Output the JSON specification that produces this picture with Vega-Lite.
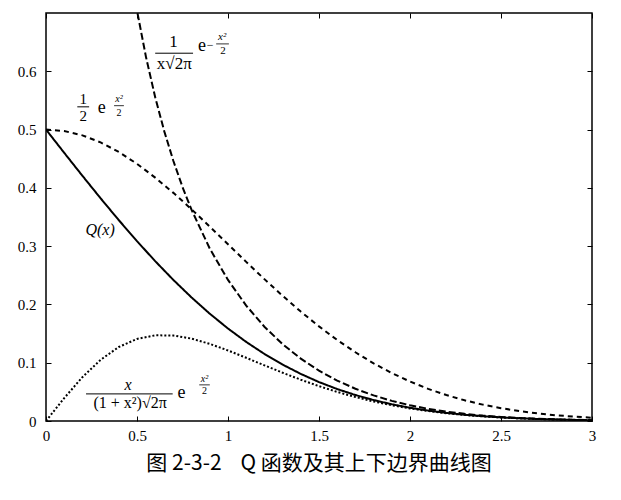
{
  "$schema": "https://vega.github.io/schema/vega-lite/v6.json",
  "width": 546,
  "height": 408,
  "autosize": "none",
  "padding": {"left": 46, "top": 13, "right": 29, "bottom": 79},
  "background": "white",
  "config": {
    "view": {"stroke": "black", "strokeWidth": 1.5},
    "text": {"font": "Liberation Serif, DejaVu Serif, serif", "fontSize": 16, "baseline": "middle", "align": "center", "color": "black"},
    "axis": {"domain": false, "grid": false, "tickColor": "black", "tickWidth": 1, "tickSize": 5, "offset": -5, "labelFont": "Liberation Serif, DejaVu Serif, serif", "labelFontSize": 15, "labelColor": "black"}
  },
  "title": {"text": "图 2-3-2\u00a0\u00a0\u00a0\u00a0Q 函数及其上下边界曲线图", "orient": "bottom", "font": "Noto Sans CJK SC", "fontSize": 21, "fontWeight": "normal", "offset": 10, "anchor": "middle", "dx": 0, "color": "black"},
  "datasets": {
    "curves": [
      {"x": 0, "y": 0.5, "curve": "Q"}, {"x": 0.1, "y": 0.46017, "curve": "Q"}, {"x": 0.2, "y": 0.42074, "curve": "Q"}, {"x": 0.3, "y": 0.38209, "curve": "Q"}, {"x": 0.4, "y": 0.34458, "curve": "Q"}, {"x": 0.5, "y": 0.30854, "curve": "Q"}, {"x": 0.6, "y": 0.27425, "curve": "Q"}, {"x": 0.7, "y": 0.24196, "curve": "Q"}, {"x": 0.8, "y": 0.21186, "curve": "Q"}, {"x": 0.9, "y": 0.18406, "curve": "Q"}, {"x": 1.0, "y": 0.15866, "curve": "Q"}, {"x": 1.1, "y": 0.13567, "curve": "Q"}, {"x": 1.2, "y": 0.11507, "curve": "Q"}, {"x": 1.3, "y": 0.0968, "curve": "Q"}, {"x": 1.4, "y": 0.08076, "curve": "Q"}, {"x": 1.5, "y": 0.06681, "curve": "Q"}, {"x": 1.6, "y": 0.0548, "curve": "Q"}, {"x": 1.7, "y": 0.04457, "curve": "Q"}, {"x": 1.8, "y": 0.03593, "curve": "Q"}, {"x": 1.9, "y": 0.02872, "curve": "Q"}, {"x": 2.0, "y": 0.02275, "curve": "Q"}, {"x": 2.1, "y": 0.01786, "curve": "Q"}, {"x": 2.2, "y": 0.0139, "curve": "Q"}, {"x": 2.3, "y": 0.01072, "curve": "Q"}, {"x": 2.4, "y": 0.0082, "curve": "Q"}, {"x": 2.5, "y": 0.00621, "curve": "Q"}, {"x": 2.6, "y": 0.00466, "curve": "Q"}, {"x": 2.7, "y": 0.00347, "curve": "Q"}, {"x": 2.8, "y": 0.00256, "curve": "Q"}, {"x": 2.9, "y": 0.00187, "curve": "Q"}, {"x": 3.0, "y": 0.00135, "curve": "Q"},
      {"x": 0, "y": 0.5, "curve": "half"}, {"x": 0.1, "y": 0.4975, "curve": "half"}, {"x": 0.2, "y": 0.4901, "curve": "half"}, {"x": 0.3, "y": 0.478, "curve": "half"}, {"x": 0.4, "y": 0.4616, "curve": "half"}, {"x": 0.5, "y": 0.4412, "curve": "half"}, {"x": 0.6, "y": 0.4176, "curve": "half"}, {"x": 0.7, "y": 0.3914, "curve": "half"}, {"x": 0.8, "y": 0.3631, "curve": "half"}, {"x": 0.9, "y": 0.3335, "curve": "half"}, {"x": 1.0, "y": 0.3033, "curve": "half"}, {"x": 1.1, "y": 0.273, "curve": "half"}, {"x": 1.2, "y": 0.2434, "curve": "half"}, {"x": 1.3, "y": 0.2148, "curve": "half"}, {"x": 1.4, "y": 0.1877, "curve": "half"}, {"x": 1.5, "y": 0.1623, "curve": "half"}, {"x": 1.6, "y": 0.139, "curve": "half"}, {"x": 1.7, "y": 0.1179, "curve": "half"}, {"x": 1.8, "y": 0.0989, "curve": "half"}, {"x": 1.9, "y": 0.0822, "curve": "half"}, {"x": 2.0, "y": 0.0677, "curve": "half"}, {"x": 2.1, "y": 0.0551, "curve": "half"}, {"x": 2.2, "y": 0.0445, "curve": "half"}, {"x": 2.3, "y": 0.0355, "curve": "half"}, {"x": 2.4, "y": 0.0281, "curve": "half"}, {"x": 2.5, "y": 0.022, "curve": "half"}, {"x": 2.6, "y": 0.017, "curve": "half"}, {"x": 2.7, "y": 0.0131, "curve": "half"}, {"x": 2.8, "y": 0.0099, "curve": "half"}, {"x": 2.9, "y": 0.0075, "curve": "half"}, {"x": 3.0, "y": 0.0056, "curve": "half"},
      {"x": 0.45, "y": 0.8012, "curve": "upper"}, {"x": 0.5, "y": 0.7041, "curve": "upper"}, {"x": 0.55, "y": 0.6235, "curve": "upper"}, {"x": 0.6, "y": 0.5554, "curve": "upper"}, {"x": 0.65, "y": 0.4969, "curve": "upper"}, {"x": 0.7, "y": 0.4461, "curve": "upper"}, {"x": 0.75, "y": 0.4015, "curve": "upper"}, {"x": 0.8, "y": 0.3621, "curve": "upper"}, {"x": 0.9, "y": 0.2957, "curve": "upper"}, {"x": 1.0, "y": 0.242, "curve": "upper"}, {"x": 1.1, "y": 0.198, "curve": "upper"}, {"x": 1.2, "y": 0.1618, "curve": "upper"}, {"x": 1.3, "y": 0.1318, "curve": "upper"}, {"x": 1.4, "y": 0.107, "curve": "upper"}, {"x": 1.5, "y": 0.0863, "curve": "upper"}, {"x": 1.6, "y": 0.0693, "curve": "upper"}, {"x": 1.7, "y": 0.0553, "curve": "upper"}, {"x": 1.8, "y": 0.0439, "curve": "upper"}, {"x": 1.9, "y": 0.0345, "curve": "upper"}, {"x": 2.0, "y": 0.027, "curve": "upper"}, {"x": 2.1, "y": 0.0209, "curve": "upper"}, {"x": 2.2, "y": 0.0161, "curve": "upper"}, {"x": 2.3, "y": 0.0123, "curve": "upper"}, {"x": 2.4, "y": 0.0093, "curve": "upper"}, {"x": 2.5, "y": 0.007, "curve": "upper"}, {"x": 2.6, "y": 0.0052, "curve": "upper"}, {"x": 2.7, "y": 0.0039, "curve": "upper"}, {"x": 2.8, "y": 0.0028, "curve": "upper"}, {"x": 2.9, "y": 0.0021, "curve": "upper"}, {"x": 3.0, "y": 0.0015, "curve": "upper"},
      {"x": 0, "y": 0, "curve": "lower"}, {"x": 0.1, "y": 0.0393, "curve": "lower"}, {"x": 0.2, "y": 0.0752, "curve": "lower"}, {"x": 0.3, "y": 0.10497, "curve": "lower"}, {"x": 0.4, "y": 0.12699, "curve": "lower"}, {"x": 0.5, "y": 0.14083, "curve": "lower"}, {"x": 0.6, "y": 0.14701, "curve": "lower"}, {"x": 0.7, "y": 0.14669, "curve": "lower"}, {"x": 0.8, "y": 0.14131, "curve": "lower"}, {"x": 0.9, "y": 0.13231, "curve": "lower"}, {"x": 1.0, "y": 0.12099, "curve": "lower"}, {"x": 1.1, "y": 0.10843, "curve": "lower"}, {"x": 1.2, "y": 0.0955, "curve": "lower"}, {"x": 1.3, "y": 0.08282, "curve": "lower"}, {"x": 1.4, "y": 0.07082, "curve": "lower"}, {"x": 1.5, "y": 0.05978, "curve": "lower"}, {"x": 1.6, "y": 0.04985, "curve": "lower"}, {"x": 1.7, "y": 0.0411, "curve": "lower"}, {"x": 1.8, "y": 0.03352, "curve": "lower"}, {"x": 1.9, "y": 0.02705, "curve": "lower"}, {"x": 2.0, "y": 0.0216, "curve": "lower"}, {"x": 2.1, "y": 0.01707, "curve": "lower"}, {"x": 2.2, "y": 0.01336, "curve": "lower"}, {"x": 2.3, "y": 0.01036, "curve": "lower"}, {"x": 2.4, "y": 0.00795, "curve": "lower"}, {"x": 2.5, "y": 0.00604, "curve": "lower"}, {"x": 2.6, "y": 0.00455, "curve": "lower"}, {"x": 2.7, "y": 0.00339, "curve": "lower"}, {"x": 2.8, "y": 0.00251, "curve": "lower"}, {"x": 2.9, "y": 0.00183, "curve": "lower"}, {"x": 3.0, "y": 0.00133, "curve": "lower"}
    ]
  },
  "resolve": {"axis": {"x": "independent", "y": "independent"}},
  "layer": [
    {
      "data": {"name": "curves"},
      "mark": {"type": "line", "clip": true, "strokeWidth": 2, "color": "black"},
      "encoding": {
        "x": {"field": "x", "type": "quantitative", "scale": {"domain": [0, 3], "nice": false, "zero": false},
          "axis": {"orient": "bottom", "title": null, "values": [0, 0.5, 1, 1.5, 2, 2.5, 3], "labelExpr": "'' + datum.value", "labelPadding": 7, "labelFlush": false}},
        "y": {"field": "y", "type": "quantitative", "scale": {"domain": [0, 0.7], "nice": false, "zero": false},
          "axis": {"orient": "left", "title": null, "values": [0, 0.1, 0.2, 0.3, 0.4, 0.5, 0.6], "labelExpr": "'' + datum.value", "labelPadding": 10}},
        "detail": {"field": "curve"},
        "strokeDash": {"field": "curve", "type": "nominal", "legend": null,
          "scale": {"domain": ["Q", "half", "upper", "lower"], "range": [[1, 0], [5, 4], [7, 3], [2, 2]]}}
      }
    },
    {
      "data": {"values": [{}]},
      "mark": {"type": "point", "opacity": 0},
      "encoding": {
        "x": {"datum": 1, "type": "quantitative", "axis": {"orient": "top", "title": null, "labels": false, "values": [0, 0.5, 1, 1.5, 2, 2.5, 3]}},
        "y": {"datum": 0.3, "type": "quantitative", "axis": {"orient": "right", "title": null, "labels": false, "values": [0, 0.1, 0.2, 0.3, 0.4, 0.5, 0.6]}}
      }
    },
    {"data": {"values": [{}]}, "mark": {"type": "text", "text": "1", "fontSize": 17}, "encoding": {"x": {"datum": 0.7, "axis": null}, "y": {"datum": 0.651, "axis": null}}},
    {"data": {"values": [{}]}, "mark": {"type": "rule", "strokeWidth": 1, "color": "black"}, "encoding": {"x": {"datum": 0.6, "axis": null}, "x2": {"datum": 0.808}, "y": {"datum": 0.631, "axis": null}}},
    {"data": {"values": [{}]}, "mark": {"type": "text", "text": "x√2π", "fontSize": 17}, "encoding": {"x": {"datum": 0.705, "axis": null}, "y": {"datum": 0.612, "axis": null}}},
    {"data": {"values": [{}]}, "mark": {"type": "text", "text": "e", "fontSize": 18}, "encoding": {"x": {"datum": 0.857, "axis": null}, "y": {"datum": 0.643, "axis": null}}},
    {"data": {"values": [{}]}, "mark": {"type": "text", "text": "−", "fontSize": 12}, "encoding": {"x": {"datum": 0.902, "axis": null}, "y": {"datum": 0.645, "axis": null}}},
    {"data": {"values": [{}]}, "mark": {"type": "text", "text": "x²", "fontSize": 11, "fontStyle": "italic"}, "encoding": {"x": {"datum": 0.968, "axis": null}, "y": {"datum": 0.658, "axis": null}}},
    {"data": {"values": [{}]}, "mark": {"type": "rule", "strokeWidth": 0.8, "color": "black"}, "encoding": {"x": {"datum": 0.935, "axis": null}, "x2": {"datum": 1.005}, "y": {"datum": 0.647, "axis": null}}},
    {"data": {"values": [{}]}, "mark": {"type": "text", "text": "2", "fontSize": 11}, "encoding": {"x": {"datum": 0.972, "axis": null}, "y": {"datum": 0.635, "axis": null}}},
    {"data": {"values": [{}]}, "mark": {"type": "text", "text": "1", "fontSize": 15}, "encoding": {"x": {"datum": 0.204, "axis": null}, "y": {"datum": 0.553, "axis": null}}},
    {"data": {"values": [{}]}, "mark": {"type": "rule", "strokeWidth": 1, "color": "black"}, "encoding": {"x": {"datum": 0.172, "axis": null}, "x2": {"datum": 0.237}, "y": {"datum": 0.539, "axis": null}}},
    {"data": {"values": [{}]}, "mark": {"type": "text", "text": "2", "fontSize": 15}, "encoding": {"x": {"datum": 0.204, "axis": null}, "y": {"datum": 0.524, "axis": null}}},
    {"data": {"values": [{}]}, "mark": {"type": "text", "text": "e", "fontSize": 18}, "encoding": {"x": {"datum": 0.307, "axis": null}, "y": {"datum": 0.537, "axis": null}}},
    {"data": {"values": [{}]}, "mark": {"type": "text", "text": "x²", "fontSize": 10, "fontStyle": "italic"}, "encoding": {"x": {"datum": 0.401, "axis": null}, "y": {"datum": 0.553, "axis": null}}},
    {"data": {"values": [{}]}, "mark": {"type": "rule", "strokeWidth": 0.8, "color": "black"}, "encoding": {"x": {"datum": 0.374, "axis": null}, "x2": {"datum": 0.428}, "y": {"datum": 0.541, "axis": null}}},
    {"data": {"values": [{}]}, "mark": {"type": "text", "text": "2", "fontSize": 10}, "encoding": {"x": {"datum": 0.401, "axis": null}, "y": {"datum": 0.529, "axis": null}}},
    {"data": {"values": [{}]}, "mark": {"type": "text", "text": "Q(x)", "fontStyle": "italic", "fontSize": 16}, "encoding": {"x": {"datum": 0.297, "axis": null}, "y": {"datum": 0.328, "axis": null}}},
    {"data": {"values": [{}]}, "mark": {"type": "text", "text": "x", "fontStyle": "italic", "fontSize": 16}, "encoding": {"x": {"datum": 0.451, "axis": null}, "y": {"datum": 0.062, "axis": null}}},
    {"data": {"values": [{}]}, "mark": {"type": "rule", "strokeWidth": 1, "color": "black"}, "encoding": {"x": {"datum": 0.22, "axis": null}, "x2": {"datum": 0.696}, "y": {"datum": 0.0465, "axis": null}}},
    {"data": {"values": [{}]}, "mark": {"type": "text", "text": "(1 + x²)√2π", "fontSize": 16}, "encoding": {"x": {"datum": 0.462, "axis": null}, "y": {"datum": 0.031, "axis": null}}},
    {"data": {"values": [{}]}, "mark": {"type": "text", "text": "e", "fontSize": 18}, "encoding": {"x": {"datum": 0.745, "axis": null}, "y": {"datum": 0.048, "axis": null}}},
    {"data": {"values": [{}]}, "mark": {"type": "text", "text": "x²", "fontSize": 10, "fontStyle": "italic"}, "encoding": {"x": {"datum": 0.871, "axis": null}, "y": {"datum": 0.072, "axis": null}}},
    {"data": {"values": [{}]}, "mark": {"type": "rule", "strokeWidth": 0.8, "color": "black"}, "encoding": {"x": {"datum": 0.842, "axis": null}, "x2": {"datum": 0.9}, "y": {"datum": 0.062, "axis": null}}},
    {"data": {"values": [{}]}, "mark": {"type": "text", "text": "2", "fontSize": 10}, "encoding": {"x": {"datum": 0.871, "axis": null}, "y": {"datum": 0.051, "axis": null}}}
  ]
}
